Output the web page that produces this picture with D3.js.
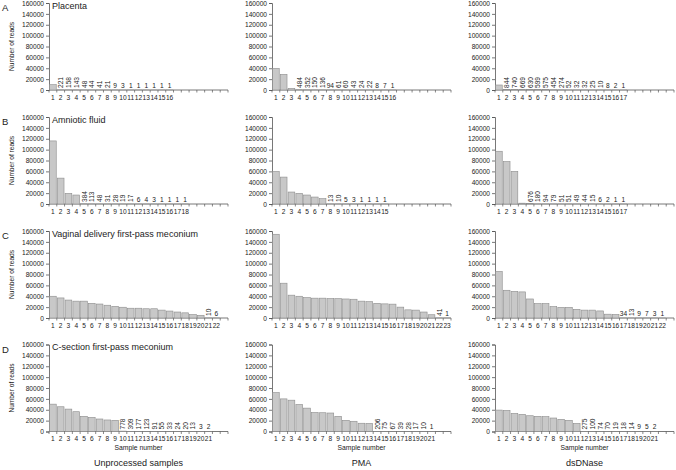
<!DOCTYPE html>
<html>
<head>
<meta charset="utf-8">
<script src="https://cdn.jsdelivr.net/npm/d3@7"></script>
<style>
  html, body { margin: 0; padding: 0; background: #fff; }
  svg { display: block; font-family: "Liberation Sans", Arial, sans-serif; }
</style>
</head>
<body>
<svg id="chart" width="676" height="470"></svg>
<script>
// ---- data (number of reads per sample, sorted descending) ----
const rowLetters = ["A", "B", "C", "D"];
const rowTitles = ["Placenta", "Amniotic fluid", "Vaginal delivery first-pass meconium", "C-section first-pass meconium"];
const columnTitles = ["Unprocessed samples", "PMA", "dsDNase"];
const yTicks = [0, 20000, 40000, 60000, 80000, 100000, 120000, 140000, 160000];

const placentaUnprocessed = [9800, 221, 158, 143, 48, 44, 41, 21, 9, 3, 1, 1, 1, 1, 1, 1];
const placentaPMA = [39700, 28700, 3000, 484, 352, 150, 136, 94, 61, 60, 43, 24, 22, 8, 7, 1];
const placentaDsDNase = [9200, 844, 740, 669, 630, 599, 575, 454, 274, 52, 32, 32, 25, 10, 8, 2, 1];

const amnioticUnprocessed = [116000, 47600, 19500, 16500, 384, 113, 48, 31, 28, 19, 17, 6, 4, 3, 1, 1, 1, 1];
const amnioticPMA = [59800, 49500, 22000, 19500, 16500, 12800, 9800, 13, 10, 5, 3, 1, 1, 1, 1];
const amnioticDsDNase = [97000, 78000, 60000, 1500, 676, 180, 94, 79, 51, 51, 49, 44, 15, 6, 2, 1, 1];

const vaginalUnprocessed = [40000, 36900, 33000, 31000, 31000, 27000, 25700, 23500, 21500, 19800, 18000, 18000, 17000, 17000, 14500, 12800, 11000, 9500, 6300, 5000, 10, 6];
const vaginalPMA = [154000, 64000, 42000, 40000, 37500, 36500, 36500, 35700, 35500, 35000, 34500, 31000, 30000, 27000, 26000, 25500, 20000, 15000, 14500, 11000, 6000, 41, 1];
const vaginalDsDNase = [85500, 51000, 49000, 48000, 35000, 26500, 26500, 21000, 19500, 19500, 16000, 14500, 14500, 13000, 7000, 6500, 34, 13, 9, 7, 3, 1];

const csectionUnprocessed = [50300, 45500, 41200, 36400, 27900, 26000, 23000, 21200, 20600, 778, 309, 177, 123, 91, 55, 33, 24, 20, 13, 3, 2];
const csectionPMA = [71500, 60000, 57600, 49700, 43000, 35000, 34500, 34000, 27900, 20600, 18800, 15200, 15000, 206, 75, 67, 39, 28, 17, 10, 1];
const csectionDsDNase = [39400, 38800, 33300, 31500, 29000, 27900, 27300, 24800, 22400, 20600, 15000, 275, 100, 74, 70, 19, 18, 14, 9, 5, 2];

const panels = [
  [placentaUnprocessed, placentaPMA, placentaDsDNase],
  [amnioticUnprocessed, amnioticPMA, amnioticDsDNase],
  [vaginalUnprocessed, vaginalPMA, vaginalDsDNase],
  [csectionUnprocessed, csectionPMA, csectionDsDNase]
];

// ---- layout / style ----
const colX = [49, 272, 495];
const rowY = [3, 117, 231, 344.5];
const plotW = 179, plotH = 87;
const nSlots = 23;
const textColor = "#222";
const axisColor = "#555";
// labels drawn upright in the original although they have two digits: "row-col-sample"
const uprightLabels = new Set(["0-1-8", "2-2-17"]);

const svg = d3.select("#chart");

const y = d3.scaleLinear().domain([0, 160000]).range([plotH, 0]);
const slots = d3.range(1, nSlots + 1);
const x = d3.scaleBand().domain(slots).range([0, plotW]).paddingInner(0.14).paddingOuter(0.07);

panels.forEach((row, ri) => {
  row.forEach((values, ci) => {
    const g = svg.append("g").attr("transform", `translate(${colX[ci]},${rowY[ri]})`);
    const data = values.map((v, i) => ({ n: i + 1, v }));

    // y axis
    const yAx = g.append("g").call(d3.axisLeft(y).tickValues(yTicks).tickSize(3).tickPadding(2).tickFormat(d3.format("d")));
    yAx.select(".domain").attr("stroke", axisColor).attr("stroke-width", 0.8);
    yAx.selectAll(".tick line").attr("stroke", axisColor).attr("stroke-width", 0.8);
    yAx.selectAll(".tick text").attr("fill", textColor).attr("font-size", 6.6).attr("font-family", "Liberation Sans, Arial, sans-serif");

    // x axis line and ticks at slot boundaries
    const xa = g.append("g").attr("transform", `translate(0,${plotH})`);
    xa.append("line").attr("x1", 0).attr("x2", plotW).attr("y1", 0).attr("y2", 0)
      .attr("stroke", axisColor).attr("stroke-width", 0.8);
    const step = x.step();
    const bounds = d3.range(0, nSlots + 1).map(i => x(1) - x.paddingInner() * step / 2 + i * step);
    xa.selectAll("line.tk").data(bounds).join("line").attr("class", "tk")
      .attr("x1", d => d).attr("x2", d => d).attr("y1", 0).attr("y2", 2.5)
      .attr("stroke", axisColor).attr("stroke-width", 0.7);
    xa.selectAll("text.xl").data(data).join("text").attr("class", "xl")
      .attr("x", d => x(d.n) + x.bandwidth() / 2).attr("y", 9.5)
      .attr("text-anchor", "middle").attr("font-size", 6.6).attr("fill", textColor)
      .text(d => d.n);

    // bars
    g.selectAll("rect.bar").data(data).join("rect").attr("class", "bar")
      .attr("x", d => x(d.n)).attr("width", x.bandwidth())
      .attr("y", d => y(d.v)).attr("height", d => plotH - y(d.v))
      .attr("fill", "#c8c8c8").attr("stroke", "#8c8c8c").attr("stroke-width", 0.6);

    // value labels for small counts
    const small = data.filter(d => d.v < 1000);
    g.selectAll("text.vl").data(small).join("text").attr("class", "vl")
      .attr("font-size", 6.6).attr("fill", textColor)
      .each(function (d) {
        const cx = x(d.n) + x.bandwidth() / 2;
        const t = d3.select(this).text(d.v);
        const upright = d.v < 10 || uprightLabels.has(`${ri}-${ci}-${d.n}`);
        if (!upright) {
          t.attr("text-anchor", "start").attr("dominant-baseline", "central")
            .attr("transform", `translate(${cx},${plotH - 2}) rotate(-90)`);
        } else {
          t.attr("text-anchor", "middle").attr("x", cx).attr("y", plotH - 2.5);
        }
      });

    if (ci === 0) {
      g.append("text").attr("transform", `translate(${14 - colX[0]},${plotH / 2}) rotate(-90)`)
        .attr("text-anchor", "middle").attr("font-size", 6.6).attr("fill", textColor)
        .text("Number of reads");
      g.append("text").attr("x", 3).attr("y", 5.5).attr("font-size", 9).attr("fill", textColor)
        .text(rowTitles[ri]);
    }
    if (ri === panels.length - 1) {
      g.append("text").attr("x", plotW / 2).attr("y", plotH + 18.5).attr("text-anchor", "middle")
        .attr("font-size", 6.8).attr("fill", textColor).text("Sample number");
      g.append("text").attr("x", plotW / 2).attr("y", plotH + 34.5).attr("text-anchor", "middle")
        .attr("font-size", 9).attr("fill", textColor).text(columnTitles[ci]);
    }
  });
  svg.append("text").attr("x", 2).attr("y", rowY[ri] + 8).attr("font-size", 9.5).attr("fill", textColor)
    .text(rowLetters[ri]);
});
</script>
</body>
</html>
